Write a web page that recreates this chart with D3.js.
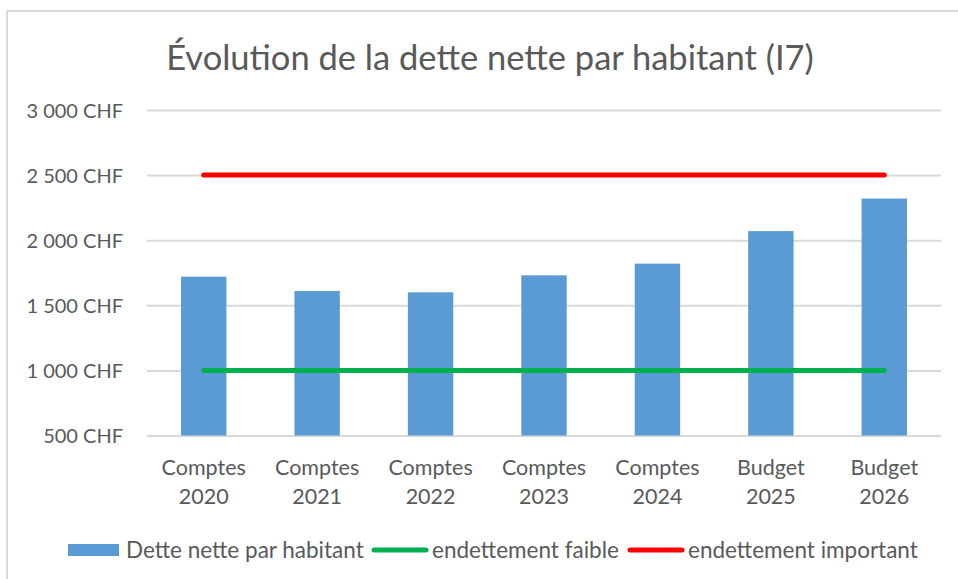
<!DOCTYPE html>
<html>
<head>
<meta charset="utf-8">
<script src="https://cdn.jsdelivr.net/npm/d3@7"></script>
<style>
  html, body { margin: 0; padding: 0; background: #fff; }
  svg { display: block; }
  text { font-family: Lato, "Open Sans", sans-serif; fill: #595959; }
</style>
</head>
<body>
<svg id="chart" width="958" height="579"></svg>
<script>
const categories = ["Comptes 2020", "Comptes 2021", "Comptes 2022", "Comptes 2023", "Comptes 2024", "Budget 2025", "Budget 2026"];
const detteNette = [1720, 1610, 1600, 1730, 1820, 2070, 2320];
const endettementFaible = [1000, 1000, 1000, 1000, 1000, 1000, 1000];
const endettementImportant = [2500, 2500, 2500, 2500, 2500, 2500, 2500];
const yTicks = [500, 1000, 1500, 2000, 2500, 3000];
const title = "Évolution de la dette nette par habitant (I7)";
const legendLabels = ["Dette nette par habitant", "endettement faible", "endettement important"];

const colors = { bar: "#5b9bd5", faible: "#00b050", important: "#ff0000", grid: "#d9d9d9" };

const svg = d3.select("#chart");

// frame
svg.append("line").attr("x1", 7).attr("x2", 958).attr("y1", 11).attr("y2", 11)
  .attr("stroke", colors.grid).attr("stroke-width", 2);
svg.append("line").attr("x1", 7).attr("x2", 7).attr("y1", 11).attr("y2", 579)
  .attr("stroke", colors.grid).attr("stroke-width", 2);

const mLeft = 147, mRight = 941, mTop = 110, mBottom = 435.5;

const x = d3.scaleBand().domain(categories).range([mLeft, mRight]).paddingInner(0.6).paddingOuter(0.3);
const y = d3.scaleLinear().domain([500, 3000]).range([mBottom, mTop]);

// title
svg.append("text").attr("x", 490).attr("y", 70).attr("text-anchor", "middle")
  .style("font-size", "34.5px").text(title);

// grid
const yAxis = d3.axisLeft(y).tickValues(yTicks).tickSize(-(mRight - mLeft)).tickPadding(24)
  .tickFormat(d => d3.format(",")(d).replace(/,/g, " ") + " CHF");
const gy = svg.append("g").attr("transform", `translate(${mLeft},0)`).call(yAxis);
gy.select(".domain").remove();
gy.selectAll(".tick line").attr("stroke", colors.grid).attr("stroke-width", 2);
gy.selectAll(".tick text").style("font-size", "20px").attr("fill", "#595959").attr("x", 123 - mLeft).attr("dy", "0.35em");

// bars
svg.append("g").selectAll("rect").data(detteNette).join("rect")
  .attr("x", (d, i) => x(categories[i]))
  .attr("width", x.bandwidth())
  .attr("y", d => y(d))
  .attr("height", d => y(500) - y(d))
  .attr("fill", colors.bar);

// lines
const line = d3.line().x((d, i) => x(categories[i]) + x.bandwidth() / 2).y(d => y(d));
svg.append("path").datum(endettementFaible).attr("d", line).attr("fill", "none")
  .attr("stroke", colors.faible).attr("stroke-width", 5).attr("stroke-linecap", "round");
svg.append("path").datum(endettementImportant).attr("d", line).attr("fill", "none")
  .attr("stroke", colors.important).attr("stroke-width", 5).attr("stroke-linecap", "round");

// x labels
const gx = svg.append("g");
categories.forEach(c => {
  const parts = c.split(" ");
  const t = gx.append("text").attr("text-anchor", "middle").style("font-size", "21.5px");
  t.append("tspan").attr("x", x(c) + x.bandwidth() / 2).attr("y", 475).text(parts[0]);
  t.append("tspan").attr("x", x(c) + x.bandwidth() / 2).attr("y", 503.5).text(parts[1]);
});

// legend
const lg = svg.append("g");
const ly = 550;
const lfs = "22.5px";
lg.append("rect").attr("x", 68).attr("y", 544).attr("width", 51).attr("height", 12).attr("fill", colors.bar);
lg.append("text").attr("x", 126).attr("y", ly).attr("dy", "0.35em").style("font-size", lfs).text(legendLabels[0]);
lg.append("line").attr("x1", 374).attr("x2", 426).attr("y1", ly).attr("y2", ly)
  .attr("stroke", colors.faible).attr("stroke-width", 5).attr("stroke-linecap", "round");
lg.append("text").attr("x", 432).attr("y", ly).attr("dy", "0.35em").style("font-size", lfs).text(legendLabels[1]);
lg.append("line").attr("x1", 630).attr("x2", 682).attr("y1", ly).attr("y2", ly)
  .attr("stroke", colors.important).attr("stroke-width", 5).attr("stroke-linecap", "round");
lg.append("text").attr("x", 688).attr("y", ly).attr("dy", "0.35em").style("font-size", lfs).text(legendLabels[2]);
</script>
</body>
</html>
